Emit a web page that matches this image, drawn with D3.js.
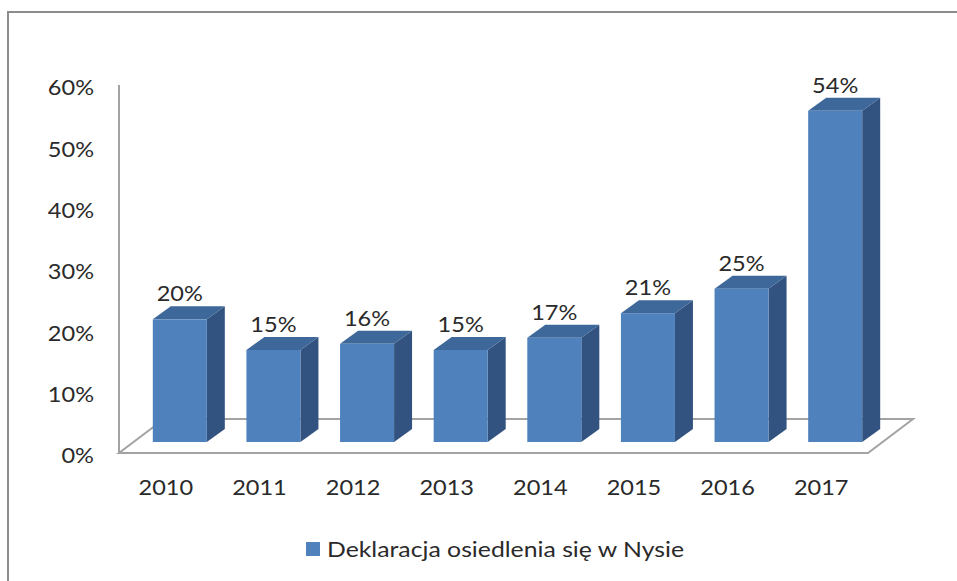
<!doctype html>
<html lang="pl">
  <head>
    <meta charset="utf-8">
    <title>Deklaracja osiedlenia się w Nysie</title>
    <script src="https://cdn.jsdelivr.net/npm/d3@7"></script>
    <style>
      body { margin: 0; background: #fff; }
      svg text { font-family: Lato, "Open Sans", sans-serif; font-weight: 400; fill: #2a2a2a; }
    </style>
  </head>
  <body>
    <div id="chart"></div>
  </body>
  <script>
      // data
      const years = ['2010', '2011', '2012', '2013', '2014', '2015', '2016', '2017'];
      const values = [20, 15, 16, 15, 17, 21, 25, 54];
      const yTicks = [0, 10, 20, 30, 40, 50, 60];
      const seriesName = 'Deklaracja osiedlenia się w Nysie';

      const W = 957, H = 581;
      const colFront = '#4f81bd', colTop = '#3d6899', colSide = '#32537f';
      const lineCol = '#a3a3a3';
      const stretch = 1.07;   // text in the picture is a bit wider than Lato

      // floor depth (front plane -> back wall) and bar offset/depth
      const floorDx = 45, floorDy = -34;
      const barOffX = 14, barOffY = -11;
      const barDx = 18, barDy = -13;

      const svg = d3.select('#chart')
          .append('svg')
          .attr('width', W)
          .attr('height', H);

      // outer frame (runs off the right and bottom edges)
      svg.append('rect')
          .attr('x', 8).attr('y', 12)
          .attr('width', 1000).attr('height', 1000)
          .attr('fill', 'none')
          .attr('stroke', '#8c8c8c')
          .attr('stroke-width', 2);

      const x = d3.scaleBand()
          .domain(years)
          .range([119, 868])
          .paddingInner(0.423)
          .paddingOuter(0.2115);

      const y = d3.scaleLinear()
          .domain([0, 60])
          .range([453, 85]);

      const x0 = 119, x1 = 868, y0 = y(0);

      // floor
      svg.append('path')
          .attr('d', 'M' + x0 + ',' + y0 + 'L' + x1 + ',' + y0 +
                'L' + (x1 + floorDx) + ',' + (y0 + floorDy) +
                'L' + (x0 + floorDx) + ',' + (y0 + floorDy) + 'Z')
          .attr('fill', '#fff')
          .attr('stroke', lineCol)
          .attr('stroke-width', 2);

      // vertical axis line
      svg.append('line')
          .attr('x1', x0).attr('x2', x0)
          .attr('y1', y(0)).attr('y2', y(60))
          .attr('stroke', lineCol)
          .attr('stroke-width', 2);

      // axes (labels only)
      const yAxis = d3.axisLeft(y)
          .tickValues(yTicks)
          .tickFormat(function(d) { return d + '%'; })
          .tickSize(0)
          .tickPadding(25);

      const gy = svg.append('g')
          .attr('transform', 'translate(' + x0 + ',0)')
          .call(yAxis);
      gy.select('.domain').remove();
      gy.selectAll('text')
          .attr('dy', '0.45em')
          .style('font-size', '22px');

      const xAxis = d3.axisBottom(x)
          .tickSize(0)
          .tickPadding(26);

      const gx = svg.append('g')
          .attr('transform', 'translate(0,' + y0 + ')')
          .call(xAxis);
      gx.select('.domain').remove();
      gx.selectAll('text')
          .style('font-size', '22px');

      // bars
      const data = years.map(function(d, i) { return { year: d, value: values[i] }; });

      const bars = svg.selectAll('.bar')
          .data(data)
          .enter().append('g')
          .attr('class', 'bar');

      function pts(arr) { return arr.map(function(p) { return p.join(','); }).join(' '); }

      bars.each(function(d) {
          const g = d3.select(this);
          const l = x(d.year) + barOffX;
          const r = l + x.bandwidth();
          const b = y0 + barOffY;
          const t = y(d.value) + barOffY;

          g.append('polygon')
              .attr('points', pts([[r, b], [r + barDx, b + barDy], [r + barDx, t + barDy], [r, t]]))
              .attr('fill', colSide);
          g.append('polygon')
              .attr('points', pts([[l, t], [r, t], [r + barDx, t + barDy], [l + barDx, t + barDy]]))
              .attr('fill', colTop);
          g.append('rect')
              .attr('x', l).attr('y', t)
              .attr('width', x.bandwidth())
              .attr('height', b - t)
              .attr('fill', colFront);

          g.append('text')
              .attr('class', 'val')
              .attr('x', (l + r) / 2)
              .attr('y', t - 18)
              .attr('text-anchor', 'middle')
              .style('font-size', '22px')
              .text(d.value + '%');
      });

      // widen all text a little to match the reference
      svg.selectAll('text').each(function() {
          const w = this.getComputedTextLength();
          d3.select(this)
              .attr('textLength', w * stretch)
              .attr('lengthAdjust', 'spacingAndGlyphs');
      });

      // legend (its text is set wider still)
      const legend = svg.append('g');
      legend.append('rect')
          .attr('x', 306).attr('y', 542)
          .attr('width', 14).attr('height', 14)
          .attr('fill', colFront);
      const legText = legend.append('text')
          .attr('x', 327).attr('y', 557)
          .style('font-size', '21px')
          .text(seriesName);
      legText.attr('textLength', legText.node().getComputedTextLength() * 1.18)
          .attr('lengthAdjust', 'spacingAndGlyphs');
  </script>
</html>
